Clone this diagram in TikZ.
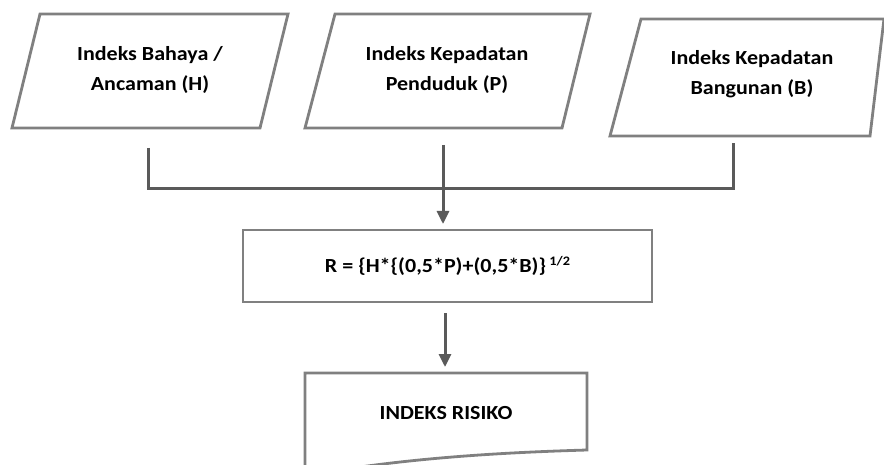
\documentclass[tikz,border=0pt]{standalone}
\usepackage{fontspec}
\setmainfont{Carlito}[FakeStretch=1.1]
\usetikzlibrary{arrows.meta}
\definecolor{boxgray}{HTML}{808080}
\definecolor{linegray}{HTML}{5A5A5A}
\tikzset{
  shapeline/.style={draw=boxgray, line width=2.8pt, line join=miter},
  conn/.style={draw=linegray, line width=3pt},
  arr/.style={conn, -{Triangle[width=12pt,length=13pt]}},
  lbl/.style={align=center, font=\fontsize{20}{30}\selectfont\bfseries, text=black, inner sep=0pt}
}
\begin{document}
\begin{tikzpicture}[x=1pt,y=-1pt]
\useasboundingbox[fill=white] (0,0) rectangle (884,465);
% input parallelograms
\draw[shapeline] (40,14) -- (288,14) -- (260,128) -- (12,128) -- cycle;
\draw[shapeline] (335,14) -- (590,14) -- (562,128) -- (305,128) -- cycle;
\draw[shapeline] (641,19) -- (884,19) -- (870,136) -- (610,136) -- cycle;
\node[lbl] (H) at (150,70) {Indeks Bahaya /\\Ancaman (H)};
\node[lbl] (P) at (447,70) {Indeks Kepadatan\\Penduduk (P)};
\node[lbl] (B) at (752,74) {Indeks Kepadatan\\Bangunan (B)};
% formula box
\node[shapeline, lbl, minimum width=409pt, minimum height=72pt] (R) at (447.5,266)
  {R = \{H*\{(0,5*P)+(0,5*B)\}\,\raisebox{7pt}{\fontsize{13}{13}\selectfont 1/2}};
% document shape
\coordinate (dtl) at (305,373);
\coordinate (dtr) at (587,373);
\draw[shapeline] (305,480) -- (dtl) -- (dtr) -- (587,450)
   .. controls (520,452) and (430,456) .. (340,470) .. controls (325,473) and (315,476) .. (305,480);
\node[lbl] (IR) at (446,413) {INDEKS RISIKO};
% connectors
\coordinate (c1) at (148,148);
\coordinate (c2) at (443,145);
\coordinate (c3) at (733,143);
\coordinate (j) at (443,189);
\draw[conn] (c1) -- (c1|-j) -- (c3|-j) -- (c3);
\draw[arr] (c2) -- (443,224);
\coordinate (d1) at (445,313);
\draw[arr] (d1) -- (445,367);
\end{tikzpicture}
\end{document}
